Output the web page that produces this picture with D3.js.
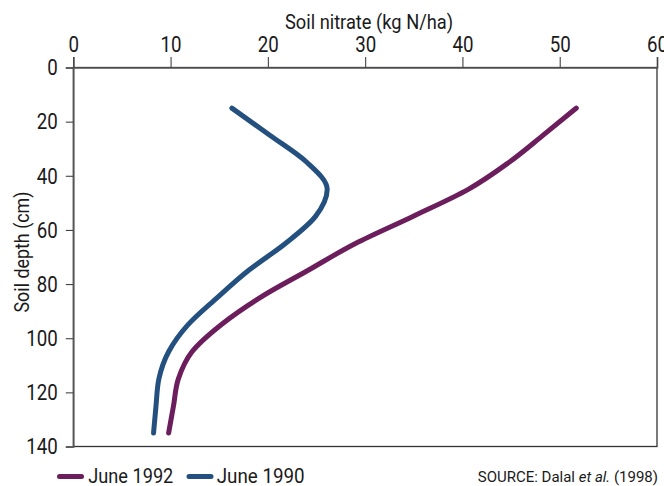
<!DOCTYPE html>
<html><head><meta charset="utf-8">
<script src="https://cdn.jsdelivr.net/npm/d3@7"></script>
<style>
body{margin:0;background:#fff;}
text{font-family:Roboto,"Liberation Sans",sans-serif;fill:#1a1a1a;}
</style></head>
<body><svg id="c" width="664" height="486"></svg>
<script>
const depths = [15,25,35,45,55,65,75,85,95,105,115,125,135];
const june1992 = [51.7,48.3,44.8,40.6,34.9,29.0,24.1,19.2,15.2,12.2,10.8,10.3,9.8];
const june1990 = [16.3,20.2,24.0,26.1,24.9,21.8,18.0,14.8,11.8,9.8,8.8,8.5,8.25];
const xTicks = [0,10,20,30,40,50,60];
const yTicks = [0,20,40,60,80,100,120,140];
const seriesNames = ["June 1992","June 1990"];
const seriesColors = ["#6b1d5c","#24507f"];

const svg = d3.select("#c");
const L=73.3, R=657, T=67.5, B=446.5;
const x = d3.scaleLinear().domain([0,60]).range([L,R]);
const y = d3.scaleLinear().domain([0,140]).range([T,B]);
const SX = 0.85;

// frame
svg.append("rect").attr("x",L).attr("y",T).attr("width",R-L).attr("height",B-T)
  .attr("fill","none").attr("stroke","#333").attr("stroke-width",1.3);

const xa = svg.append("g").attr("transform",`translate(0,${T})`)
  .call(d3.axisTop(x).tickValues(xTicks).tickSize(10.5).tickPadding(5));
const ya = svg.append("g").attr("transform",`translate(${L},0)`)
  .call(d3.axisLeft(y).tickValues(yTicks).tickSize(7.5).tickPadding(8));
[xa,ya].forEach(g=>{
  g.select(".domain").attr("stroke","#555").attr("stroke-width",1.6);
  g.selectAll(".tick line").attr("stroke","#444").attr("stroke-width",1.1);
  g.selectAll("text").attr("font-size",22).attr("fill","#1a1a1a")
   .attr("font-family","Roboto,sans-serif")
   .attr("transform",`scale(${SX},1)`);
});
ya.selectAll("text").attr("x",-15.5/SX).attr("dy","0.33em");

svg.append("text").attr("x",369).attr("y",28.5).attr("text-anchor","middle")
  .attr("font-size",21).attr("textLength",168).attr("lengthAdjust","spacingAndGlyphs")
  .text("Soil nitrate (kg N/ha)");
svg.append("text").attr("transform",`translate(29,252) rotate(-90)`)
  .attr("text-anchor","middle").attr("font-size",20)
  .attr("textLength",121).attr("lengthAdjust","spacingAndGlyphs").text("Soil depth (cm)");

const line = d3.line().x(d=>x(d[0])).y(d=>y(d[1])).curve(d3.curveMonotoneY);
[june1992,june1990].forEach((vals,i)=>{
  svg.append("path").datum(vals.map((v,j)=>[v,depths[j]]))
    .attr("d",line).attr("fill","none").attr("stroke",seriesColors[i])
    .attr("stroke-width",5).attr("stroke-linecap","round").attr("stroke-linejoin","round");
});

// legend
const legX=[59.5,189];
const legTextX=[88.3,216.7];
const legW=[85,88];
seriesNames.forEach((n,i)=>{
  svg.append("line").attr("x1",legX[i]).attr("x2",legX[i]+22).attr("y1",476.5).attr("y2",476.5)
    .attr("stroke",seriesColors[i]).attr("stroke-width",5).attr("stroke-linecap","round");
  svg.append("text").attr("x",legTextX[i]).attr("y",483.3).attr("font-size",20)
    .attr("textLength",legW[i]).attr("lengthAdjust","spacingAndGlyphs").text(n);
});
const src = svg.append("text").attr("x",658).attr("y",482).attr("text-anchor","end").attr("font-size",15);
src.append("tspan").text("SOURCE: Dalal ");
src.append("tspan").attr("font-style","italic").text("et al.");
src.append("tspan").text(" (1998)");
</script></body></html>
